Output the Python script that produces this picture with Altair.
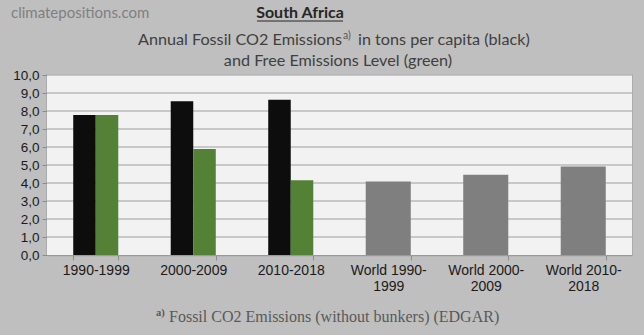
import altair as alt
import pandas as pd

categories = ["1990-1999", "2000-2009", "2010-2018",
              "World 1990-1999", "World 2000-2009", "World 2010-2018"]
sa_periods = categories[:3]
sa_emissions = [7.78, 8.54, 8.63]
sa_free = [7.78, 5.89, 4.15]
world_periods = categories[3:]
world_emissions = [4.09, 4.46, 4.91]
series_names = ["Fossil CO2 Emissions", "Free Emissions Level"]
series_colors = ["#0d0d0d", "#538135"]
world_color = "#7f7f7f"
y_ticks = list(range(0, 11))

sa_df = pd.DataFrame({
    "period": sa_periods * 2,
    "series": [series_names[0]] * 3 + [series_names[1]] * 3,
    "value": sa_emissions + sa_free,
})
world_df = pd.DataFrame({"period": world_periods, "value": world_emissions})
grid_df = pd.DataFrame({"v": y_ticks[1:]})

x_scale = alt.Scale(domain=categories, paddingInner=0.538, paddingOuter=0.269)
y_scale = alt.Scale(domain=[0, 10], nice=False)


def x_axis():
    return alt.Axis(
        title=None, labelAngle=0,
        labelExpr="length(datum.label) > 9 ? [slice(datum.label, 0, 11), slice(datum.label, 11)] : datum.label",
        tickBand="extent", ticks=True, tickSize=5, tickColor="#8c8c8c", tickWidth=1,
        domain=True, domainColor="#9a9a9a", domainWidth=1.5,
        labelFont="Liberation Sans", labelFontSize=14, labelColor="#1a1a1a",
        labelPadding=3, labelLineHeight=16.5, grid=False, labelOverlap=False, labelBound=False,
    )


def y_axis():
    return alt.Axis(
        title=None, values=y_ticks,
        labelExpr="replace(format(datum.value, '.1f'), '.', ',')",
        ticks=True, tickSize=5, tickColor="#8c8c8c", tickWidth=1, domain=False,
        labelFont="Liberation Sans", labelFontSize=13.5, labelColor="#1a1a1a", labelPadding=3,
        labelOverlap=False, labelBound=False, grid=False,
    )


plot_bg = alt.Chart(pd.DataFrame({"a": [0]})).mark_rect(color="#f2f2f2").encode(
    x=alt.value(0), x2=alt.value(585), y=alt.value(0), y2=alt.value(180),
)

grid = alt.Chart(grid_df).mark_rule(color="#bababa", strokeWidth=1.5).encode(
    y=alt.Y("v:Q", scale=y_scale, axis=y_axis()),
    x=alt.value(0), x2=alt.value(585),
)

sa = alt.Chart(sa_df).mark_bar().encode(
    x=alt.X("period:N", scale=x_scale, axis=x_axis(), sort=categories),
    xOffset=alt.XOffset("series:N", sort=series_names,
                        scale=alt.Scale(domain=series_names, paddingInner=0, paddingOuter=0)),
    y=alt.Y("value:Q", scale=y_scale, axis=y_axis()),
    color=alt.Color("series:N", scale=alt.Scale(domain=series_names, range=series_colors), legend=None),
)

world = alt.Chart(world_df).mark_bar(color=world_color).encode(
    x=alt.X("period:N", scale=x_scale, sort=categories, axis=x_axis()),
    y=alt.Y("value:Q", scale=y_scale, axis=y_axis()),
)


def label(text, x, y, size, color, font="Lato", weight="normal", align="left", baseline="middle"):
    return alt.Chart(pd.DataFrame({"t": [text]})).mark_text(
        font=font, fontSize=size, color=color, fontWeight=weight, align=align, baseline=baseline,
    ).encode(x=alt.value(x), y=alt.value(y), text="t:N")


site = label("climatepositions.com", -36, -62, 15, "#808080")
title = label("South Africa", 253, -62, 16, "#262626", weight="bold", align="center")
underline = alt.Chart(pd.DataFrame({"a": [0]})).mark_rule(color="#262626", strokeWidth=1).encode(
    x=alt.value(210), x2=alt.value(296), y=alt.value(-54))
sub1a = label("Annual Fossil CO2 Emissions", 295, -35, 16.2, "#404040", align="right")
sub1s = label("a)", 296, -39, 10.5, "#595959")
sub1b = label("in tons per capita (black)", 311, -35, 16.2, "#404040")
sub2 = label("and Free Emissions Level (green)", 291, -14, 16.2, "#404040", align="center")
foot_s = label("a)", 109, 238, 10.5, "#595959", font="Liberation Serif", weight="bold")
foot = label("Fossil CO2 Emissions (without bunkers) (EDGAR)", 122, 242, 16, "#595959",
             font="Liberation Serif")

chart = alt.layer(
    plot_bg, grid, sa, world, site, title, underline, sub1a, sub1s, sub1b, sub2, foot_s, foot
).properties(
    width=585, height=180,
    autosize=alt.AutoSizeParams(type="none"),
    padding={"left": 47, "top": 75, "right": 12, "bottom": 80},
    background="#bfbfbf",
).configure_view(
    stroke="#a6a6a6", strokeWidth=1.5,
)

chart.save("out.html", embed_options={"renderer": "svg", "actions": False})
